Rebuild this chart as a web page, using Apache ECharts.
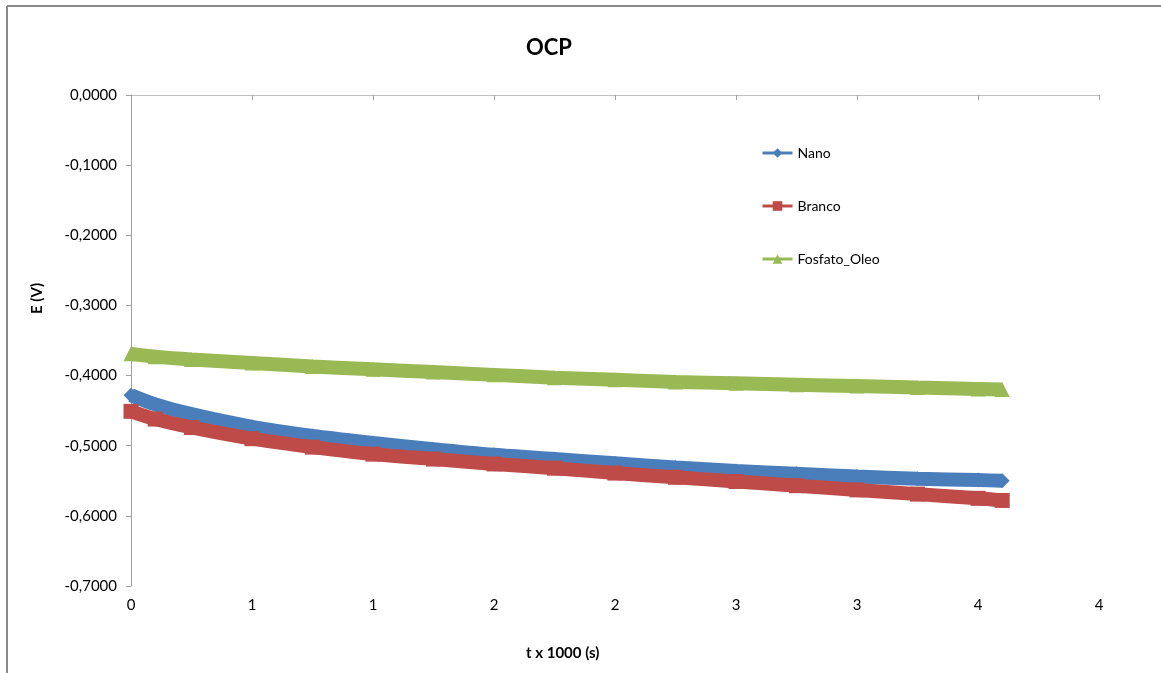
<!DOCTYPE html>
<html>
<head>
<meta charset="utf-8">
<script src="https://cdn.jsdelivr.net/npm/echarts@6/dist/echarts.min.js"></script>
<style>
  html, body { margin: 0; padding: 0; background: #fff; }
  #chart { width: 1161px; height: 673px; }
</style>
</head>
<body>
<div id="chart"></div>
<script>
  // time in thousands of seconds
  const tData = [0, 0.1, 0.25, 0.5, 0.75, 1, 1.25, 1.5, 1.75, 2, 2.25, 2.5, 2.75, 3, 3.25, 3.5, 3.6];
  const nano = [-0.428, -0.441, -0.455, -0.473, -0.486, -0.496, -0.505, -0.513, -0.519, -0.525, -0.531, -0.536, -0.540, -0.544, -0.547, -0.549, -0.550];
  const branco = [-0.451, -0.462, -0.474, -0.490, -0.502, -0.512, -0.519, -0.526, -0.532, -0.539, -0.545, -0.551, -0.557, -0.563, -0.569, -0.575, -0.578];
  const fosfatoOleo = [-0.369, -0.373, -0.377, -0.382, -0.387, -0.391, -0.395, -0.399, -0.403, -0.406, -0.409, -0.411, -0.413, -0.415, -0.417, -0.419, -0.420];
  const xTickLabels = ['0', '1', '1', '2', '2', '3', '3', '4', '4'];

  const font = 'Lato, "Open Sans", sans-serif';
  const pair = ys => tData.map((t, i) => [t, ys[i]]);

  function line(name, ys, color, symbol) {
    return {
      name: name,
      type: 'line',
      data: pair(ys),
      smooth: 0.3,
      symbol: symbol,
      symbolSize: 15,
      showAllSymbol: true,
      lineStyle: { color: color, width: 14 },
      itemStyle: { color: color },
      animation: false
    };
  }

  const chart = echarts.init(document.getElementById('chart'));
  chart.setOption({
    backgroundColor: '#fff',
    textStyle: { fontFamily: font },
    title: {
      text: 'OCP',
      left: 544,
      top: 32,
      textAlign: 'center',
      textStyle: { fontFamily: font, fontSize: 22, fontWeight: 'bold', color: '#000' }
    },
    graphic: [
      { type: 'line', shape: { x1: 7, y1: 6, x2: 1161, y2: 6 }, style: { stroke: '#8a8a8a', lineWidth: 2 } },
      { type: 'line', shape: { x1: 7, y1: 6, x2: 7, y2: 673 }, style: { stroke: '#8a8a8a', lineWidth: 2 } },
      // axis titles (Excel places them off the plot centre)
      {
        type: 'text', left: 526, top: 646,
        style: { text: 't x 1000 (s)', fontFamily: font, fontSize: 15, fontWeight: 'bold', fill: '#000' }
      },
      {
        type: 'text', x: 30, y: 314, rotation: Math.PI / 2,
        style: { text: 'E (V)', fontFamily: font, fontSize: 15, fontWeight: 'bold', fill: '#000' }
      }
    ],
    legend: {
      orient: 'vertical',
      left: 756,
      top: 141,
      itemWidth: 30,
      itemHeight: 12,
      itemGap: 39,
      lineStyle: { width: 3 },
      textStyle: { fontFamily: font, fontSize: 14, color: '#000' },
      data: ['Nano', 'Branco', 'Fosfato_Oleo']
    },
    grid: { left: 131, right: 62, top: 95, bottom: 87 },
    xAxis: {
      type: 'value',
      min: 0,
      max: 4,
      interval: 0.5,
      axisLine: { lineStyle: { color: '#bfbfbf', width: 1 } },
      axisTick: { show: true, length: 5, lineStyle: { color: '#a0a0a0' } },
      axisLabel: {
        margin: 12,
        fontSize: 15,
        color: '#000',
        formatter: v => xTickLabels[Math.round(v / 0.5)]
      },
      splitLine: { show: false }
    },
    yAxis: {
      type: 'value',
      min: -0.7,
      max: 0,
      interval: 0.1,
      axisLine: { show: true, lineStyle: { color: '#a0a0a0', width: 1 } },
      axisTick: { show: true, length: 5, inside: false, lineStyle: { color: '#a0a0a0' } },
      axisLabel: {
        margin: 14,
        fontSize: 15,
        color: '#000',
        formatter: v => v.toFixed(4).replace('.', ',').replace('-0,0000', '0,0000')
      },
      splitLine: { show: false }
    },
    series: [
      line('Nano', nano, '#4a7ebb', 'diamond'),
      line('Branco', branco, '#be4b48', 'rect'),
      line('Fosfato_Oleo', fosfatoOleo, '#98b954', 'triangle')
    ]
  });
</script>
</body>
</html>
